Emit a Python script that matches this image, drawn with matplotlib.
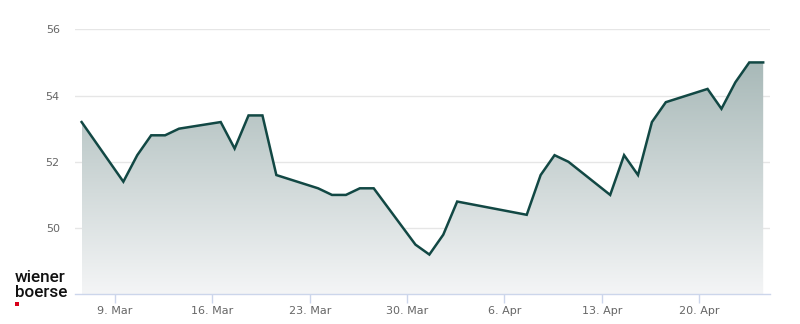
import matplotlib
matplotlib.use("Agg")
import matplotlib.pyplot as plt
import matplotlib.dates as mdates
import numpy as np
from datetime import datetime, timedelta

# ---- data ----
dates = ["2026-03-06", "2026-03-09", "2026-03-10", "2026-03-11", "2026-03-12", "2026-03-13",
         "2026-03-16", "2026-03-17", "2026-03-18", "2026-03-19", "2026-03-20",
         "2026-03-23", "2026-03-24", "2026-03-25", "2026-03-26", "2026-03-27",
         "2026-03-30", "2026-03-31", "2026-04-01", "2026-04-02",
         "2026-04-07", "2026-04-08", "2026-04-09", "2026-04-10",
         "2026-04-13", "2026-04-14", "2026-04-15", "2026-04-16", "2026-04-17",
         "2026-04-20", "2026-04-21", "2026-04-22", "2026-04-23", "2026-04-24"]
prices = [53.2, 51.4, 52.2, 52.8, 52.8, 53.0,
          53.2, 52.4, 53.4, 53.4, 51.6,
          51.2, 51.0, 51.0, 51.2, 51.2,
          49.5, 49.2, 49.8, 50.8,
          50.4, 51.6, 52.2, 52.0,
          51.0, 52.2, 51.6, 53.2, 53.8,
          54.2, 53.6, 54.4, 55.0, 55.0]
tick_dates = ["2026-03-09", "2026-03-16", "2026-03-23", "2026-03-30",
              "2026-04-06", "2026-04-13", "2026-04-20"]
tick_labels = ["9. Mar", "16. Mar", "23. Mar", "30. Mar", "6. Apr", "13. Apr", "20. Apr"]
y_ticks = [50, 52, 54, 56]

# ---- figure ----
W, H = 800, 324
fig = plt.figure(figsize=(W / 100, H / 100), dpi=100)
ax = fig.add_axes([75 / W, (H - 294.3) / H, (770 - 75) / W, (294.3 - 29.3) / H])

x = mdates.date2num([datetime.strptime(d, "%Y-%m-%d") + timedelta(hours=14.4) for d in dates])
y = np.array(prices)

ymin, ymax = 48, 56
base = mdates.date2num(datetime(2026, 3, 9))
ax.set_xlim(base - 2.876, base + 47.09)
ax.set_ylim(ymin, ymax)

# gradient fill
poly = ax.fill_between(x, y, ymin, color="none", lw=0)
top_c = np.array([168, 185, 184]) / 255
bot_c = np.array([244, 245, 246]) / 255
ymaxd = y.max()
n = 256
t = np.linspace(0, 1, n)[:, None]
grad = top_c[None, :] * (1 - t) + bot_c[None, :] * t
grad = grad[:, None, :]
im = ax.imshow(grad, extent=[x.min(), x.max(), ymin, ymaxd], aspect="auto",
               origin="upper", zorder=1, interpolation="bilinear")
im.set_clip_path(poly.get_paths()[0], transform=ax.transData)

ax.plot(x, y, color="#124844", lw=1.8, zorder=3, solid_joinstyle="miter")

# grid
for v in y_ticks:
    ax.axhline(v, color="#e6e6e6", lw=1, zorder=0)

ax.set_yticks(y_ticks)
ax.set_yticklabels([str(v) for v in y_ticks])
ax.tick_params(axis="y", length=0, pad=11, labelsize=8, labelcolor="#666666")

ax.set_xticks(mdates.date2num([datetime.strptime(d, "%Y-%m-%d") for d in tick_dates]))
ax.set_xticklabels(tick_labels)
ax.tick_params(axis="x", length=6.5, width=1, color="#ccd6eb", pad=2,
               labelsize=8, labelcolor="#666666")

for s in ["top", "right", "left"]:
    ax.spines[s].set_visible(False)
ax.spines["bottom"].set_color("#ccd6eb")
ax.spines["bottom"].set_linewidth(1)
ax.spines["bottom"].set_zorder(4)
ax.set_facecolor("white")

# logo
fig.text(15 / W, (H - 281.7) / H, "wiener", fontsize=12.3, family="Roboto", weight="medium",
         color="#111111", ha="left", va="baseline")
fig.text(15 / W, (H - 297.3) / H, "boerse", fontsize=12.3, family="Roboto", weight="medium",
         color="#111111", ha="left", va="baseline")
fig.patches.append(plt.Rectangle((15.3 / W, (H - 306) / H), 4 / W, 4 / H,
                                 transform=fig.transFigure, color="#d8001a", lw=0))

fig.savefig("out.png", dpi=100)
